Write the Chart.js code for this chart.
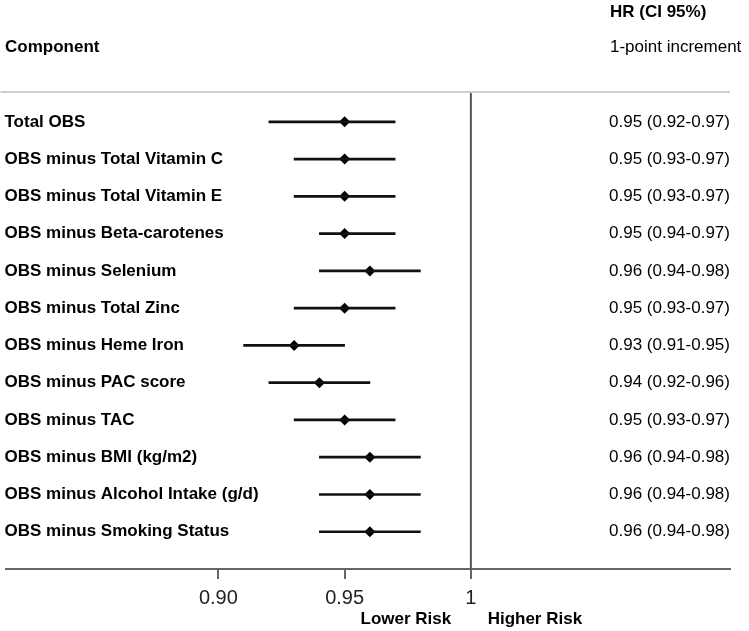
<!DOCTYPE html>
<html>
<head>
<meta charset="utf-8">
<script src="https://cdn.jsdelivr.net/npm/chart.js@4.4.1/dist/chart.umd.min.js"></script>
<style>
  html, body { margin: 0; padding: 0; background: #fff; }
  #wrap { width: 749px; height: 631px; }
</style>
</head>
<body>
<div id="wrap"><canvas id="chart"></canvas></div>
<script>
// forest plot data
const components = [
  'Total OBS',
  'OBS minus Total Vitamin C',
  'OBS minus Total Vitamin E',
  'OBS minus Beta-carotenes',
  'OBS minus Selenium',
  'OBS minus Total Zinc',
  'OBS minus Heme Iron',
  'OBS minus PAC score',
  'OBS minus TAC',
  'OBS minus BMI (kg/m2)',
  'OBS minus Alcohol Intake (g/d)',
  'OBS minus Smoking Status'
];
const hr    = [0.95, 0.95, 0.95, 0.95, 0.96, 0.95, 0.93, 0.94, 0.95, 0.96, 0.96, 0.96];
const lower = [0.92, 0.93, 0.93, 0.94, 0.94, 0.93, 0.91, 0.92, 0.93, 0.94, 0.94, 0.94];
const upper = [0.97, 0.97, 0.97, 0.97, 0.98, 0.97, 0.95, 0.96, 0.97, 0.98, 0.98, 0.98];
const xTicks = [0.90, 0.95, 1];
const nullEffect = 1;

const FONT = "'Liberation Sans', Arial, sans-serif";
const X_MIN = 0.81571, X_MAX = 1.10261;
const Y_MIN = 0.2, Y_MAX = 13;

const hrText = (i) => `${hr[i].toFixed(2)} (${lower[i].toFixed(2)}-${upper[i].toFixed(2)})`;

// headers, HR column and the risk captions
const textPlugin = {
  id: 'forestText',
  afterDraw(chart) {
    const ctx = chart.ctx;
    const yScale = chart.scales.y;
    const xScale = chart.scales.x;
    ctx.save();
    ctx.fillStyle = '#000';
    ctx.textBaseline = 'middle';
    ctx.textAlign = 'left';

    ctx.font = `bold 17px ${FONT}`;
    ctx.fillText('Component', 5, 47);
    ctx.fillText('HR (CI 95%)', 610, 12);
    ctx.font = `17px ${FONT}`;
    ctx.fillText('1-point increment', 610, 47);

    for (let i = 0; i < components.length; i++) {
      ctx.fillText(hrText(i), 609, yScale.getPixelForValue(i + 1));
    }

    ctx.font = `bold 17px ${FONT}`;
    ctx.textAlign = 'center';
    const one = xScale.getPixelForValue(nullEffect);
    ctx.fillText('Lower Risk', one - 65, 619);
    ctx.fillText('Higher Risk', one + 64, 619);
    ctx.restore();
  }
};

const rows = components.map((c, i) => i + 1);

new Chart(document.getElementById('chart'), {
  type: 'bar',
  data: {
    datasets: [
      {
        // thin grey rule under the header
        type: 'line',
        data: [{ x: 0.8137, y: Y_MIN }, { x: X_MAX, y: Y_MIN }],
        borderColor: '#cfcfcf',
        borderWidth: 2,
        pointRadius: 0,
        clip: false,
        xAxisID: 'x',
        yAxisID: 'y'
      },
      {
        // reference line at HR = 1
        type: 'line',
        data: [{ x: nullEffect, y: Y_MIN }, { x: nullEffect, y: Y_MAX }],
        borderColor: '#555',
        borderWidth: 2,
        pointRadius: 0,
        xAxisID: 'x',
        yAxisID: 'y'
      },
      {
        type: 'bar',
        indexAxis: 'y',
        data: rows.map((r, i) => ({ y: r, x: [lower[i], upper[i]] })),
        backgroundColor: '#111',
        barThickness: 2,
        borderSkipped: false,
        xAxisID: 'x',
        yAxisID: 'y'
      },
      {
        type: 'line',
        showLine: false,
        data: rows.map((r, i) => ({ x: hr[i], y: r })),
        pointStyle: 'rectRot',
        pointRadius: 5.5,
        pointBackgroundColor: '#000',
        pointBorderColor: '#000',
        pointBorderWidth: 0,
        xAxisID: 'x',
        yAxisID: 'y'
      }
    ]
  },
  options: {
    responsive: true,
    maintainAspectRatio: false,
    animation: false,
    layout: { padding: { top: 92, bottom: 14, left: 0, right: 19 } },
    plugins: {
      legend: { display: false },
      tooltip: { enabled: false }
    },
    scales: {
      x: {
        type: 'linear',
        position: 'bottom',
        offset: false,
        min: X_MIN,
        max: X_MAX,
        afterBuildTicks: (scale) => { scale.ticks = xTicks.map(v => ({ value: v })); },
        border: { display: true, color: '#666', width: 2 },
        grid: {
          offset: false,
          drawOnChartArea: false,
          drawTicks: true,
          color: '#666',
          lineWidth: 2,
          tickColor: '#666',
          tickLength: 10,
          tickWidth: 2
        },
        ticks: {
          padding: 7,
          color: '#222',
          font: { family: FONT, size: 20 },
          maxRotation: 0,
          callback: (v) => (v === 1 ? '1' : v.toFixed(2))
        }
      },
      y: {
        type: 'linear',
        position: 'left',
        offset: false, // the horizontal bars would otherwise pad this axis
        reverse: true,
        min: Y_MIN,
        max: Y_MAX,
        afterBuildTicks: (scale) => { scale.ticks = rows.map(v => ({ value: v })); },
        afterFit: (scale) => {
          // labels sit inside the plot, so the axis takes no room
          scale.width = 0;
        },
        border: { display: false },
        grid: { display: false, drawTicks: false, offset: false },
        ticks: {
          mirror: true,
          padding: -1,
          autoSkip: false,
          color: '#000',
          font: { family: FONT, size: 17, weight: 'bold' },
          callback: (v) => components[v - 1] || ''
        }
      }
    }
  },
  plugins: [textPlugin]
});
</script>
</body>
</html>
